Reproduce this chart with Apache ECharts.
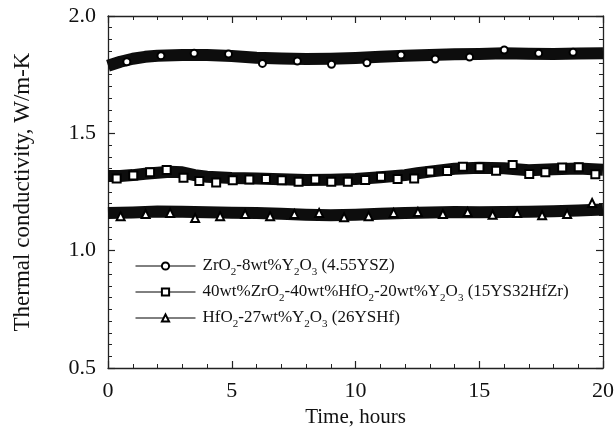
<!DOCTYPE html>
<html><head><meta charset="utf-8">
<script src="https://cdn.jsdelivr.net/npm/echarts@6/dist/echarts.min.js"></script>
<style>html,body{margin:0;padding:0;background:#fff}#c{width:615px;height:431px}</style>
</head><body><div id="c"></div>
<script>
// Series names
const seriesNames = [
  'ZrO2-8wt%Y2O3 (4.55YSZ)',
  '40wt%ZrO2-40wt%HfO2-20wt%Y2O3 (15YS32HfZr)',
  'HfO2-27wt%Y2O3 (26YSHf)'
];
// Dense measured trace (trend of the noisy band), [hours, W/m-K]
const ysz_band = [[0,1.788],[0.5,1.805],[1,1.818],[1.5,1.826],[2,1.831],[3,1.834],[4,1.834],[5,1.830],[6,1.822],[7,1.819],[8,1.817],[9,1.818],[10,1.821],[11,1.826],[12,1.831],[13,1.834],[14,1.837],[15,1.838],[16,1.841],[17,1.839],[18,1.838],[19,1.840],[20,1.841]];
const hfzr_band = [[0,1.318],[0.5,1.318],[1,1.322],[1.5,1.328],[2,1.332],[2.5,1.336],[3,1.334],[3.5,1.322],[4,1.315],[5,1.310],[6,1.308],[7,1.304],[8,1.301],[9,1.302],[10,1.305],[11,1.313],[12,1.322],[12.5,1.330],[13,1.337],[14,1.349],[15,1.353],[16,1.351],[17,1.343],[18,1.347],[19,1.350],[20,1.345]];
const yshf_band = [[0,1.160],[1,1.163],[2,1.167],[3,1.166],[4,1.164],[5,1.162],[6,1.160],[7,1.157],[8,1.153],[9,1.151],[10,1.153],[11,1.157],[12,1.161],[13,1.163],[14,1.165],[15,1.164],[16,1.165],[17,1.166],[18,1.168],[19,1.171],[20,1.175]];
// Marker points
const ysz_marks = [[0.76,1.805],[2.14,1.831],[3.48,1.841],[4.87,1.838],[6.24,1.798],[7.65,1.808],[9.03,1.794],[10.46,1.801],[11.84,1.834],[13.22,1.817],[14.61,1.825],[16.01,1.855],[17.40,1.841],[18.79,1.845]];
const hfzr_marks = [[0.35,1.308],[1.02,1.320],[1.70,1.334],[2.37,1.344],[3.05,1.311],[3.69,1.297],[4.37,1.291],[5.04,1.300],[5.71,1.303],[6.38,1.305],[7.02,1.300],[7.70,1.294],[8.37,1.303],[9.02,1.294],[9.69,1.294],[10.39,1.301],[11.03,1.315],[11.70,1.305],[12.37,1.308],[13.02,1.337],[13.70,1.340],[14.34,1.358],[15.01,1.355],[15.68,1.341],[16.35,1.365],[17.02,1.327],[17.67,1.334],[18.35,1.354],[19.02,1.355],[19.69,1.326]];
const yshf_marks = [[0.51,1.147],[1.52,1.156],[2.51,1.161],[3.52,1.139],[4.53,1.147],[5.54,1.156],[6.55,1.147],[7.53,1.156],[8.53,1.161],[9.54,1.142],[10.53,1.147],[11.54,1.161],[12.52,1.165],[13.53,1.156],[14.53,1.165],[15.54,1.153],[16.53,1.161],[17.54,1.151],[18.55,1.156],[19.56,1.203]];
const xTicks = {min:0, max:20, interval:5};
const yTicks = {min:0.5, max:2.0, interval:0.5};
const xTitle = 'Time, hours';
const yTitle = 'Thermal conductivity, W/m-K';

const FONT = '"Liberation Serif","Times New Roman",serif';
const richName = {
  'ZrO2-8wt%Y2O3 (4.55YSZ)': 'ZrO{s|2}-8wt%Y{s|2}O{s|3} (4.55YSZ)',
  '40wt%ZrO2-40wt%HfO2-20wt%Y2O3 (15YS32HfZr)': '40wt%ZrO{s|2}-40wt%HfO{s|2}-20wt%Y{s|2}O{s|3} (15YS32HfZr)',
  'HfO2-27wt%Y2O3 (26YSHf)': 'HfO{s|2}-27wt%Y{s|2}O{s|3} (26YSHf)'
};
const axisColor = '#222';
function xAx(pos, labels){
  return {type:'value', position:pos, min:xTicks.min, max:xTicks.max, interval:xTicks.interval,
    axisLine:{show:true, onZero:false, lineStyle:{color:axisColor, width:1.3}},
    axisTick:{show:true, inside:true, length:7, lineStyle:{color:axisColor, width:1.2}},
    minorTick:{show:true, splitNumber:5, length:4, lineStyle:{color:axisColor, width:1}},
    splitLine:{show:false},
    axisLabel:{show:labels, color:'#111', fontFamily:FONT, fontSize:22, margin:12},
    name: labels ? xTitle : '', nameLocation:'middle', nameGap:37,
    nameTextStyle:{color:'#111', fontFamily:FONT, fontSize:21}};
}
function yAx(pos, labels){
  return {type:'value', position:pos, min:yTicks.min, max:yTicks.max, interval:yTicks.interval,
    axisLine:{show:true, onZero:false, lineStyle:{color:axisColor, width:1.3}},
    axisTick:{show:true, inside:true, length:7, lineStyle:{color:axisColor, width:1.2}},
    minorTick:{show:true, splitNumber:10, length:4, lineStyle:{color:axisColor, width:1}},
    splitLine:{show:false},
    axisLabel:{show:labels, color:'#111', fontFamily:FONT, fontSize:22, margin:12, formatter:v=>v.toFixed(1)},
    name: labels ? yTitle : '', nameLocation:'middle', nameGap:74,
    nameTextStyle:{color:'#111', fontFamily:FONT, fontSize:23}};
}
function band(data){
  return {type:'line', data:data, symbol:'none', silent:true, z:2,
    lineStyle:{color:'#0d0d0d', width:12, join:'round', cap:'butt'}, legendHoverLink:false};
}
function marks(name, data, symbol, size){
  return {type:'line', name:name, data:data, symbol:symbol, symbolSize:size, z:5,
    lineStyle:{opacity:0, width:0},
    itemStyle:{color:'#000', borderColor:'#000', borderWidth:1.2}};
}
const chart = echarts.init(document.getElementById('c'), null, {renderer:'canvas'});
chart.setOption({
  animation:false,
  backgroundColor:'#fff',
  grid:{left:108, right:12, top:16, bottom:63, containLabel:false, outerBoundsMode:'none'},
  xAxis:[xAx('bottom', true), xAx('top', false)],
  yAxis:[yAx('left', true), yAx('right', false)],
  legend:{
    orient:'vertical', left:130, top:249, itemWidth:60, itemHeight:9, itemGap:2,
    data:seriesNames,
    lineStyle:{color:'#000', width:1, opacity:1, type:'solid'},
    formatter:n=>richName[n],
    textStyle:{color:'#111', fontFamily:FONT, fontSize:17, lineHeight:24, padding:[0,0,0,2],
      rich:{s:{fontFamily:FONT, fontSize:11, verticalAlign:'bottom', lineHeight:11, padding:[0,0,0,0]}}}
  },
  series:[
    band(ysz_band), band(hfzr_band), band(yshf_band),
    marks(seriesNames[0], ysz_marks, 'emptyCircle', 7),
    marks(seriesNames[1], hfzr_marks, 'emptyRect', 8),
    marks(seriesNames[2], yshf_marks, 'emptyTriangle', 8)
  ]
});
</script></body></html>
